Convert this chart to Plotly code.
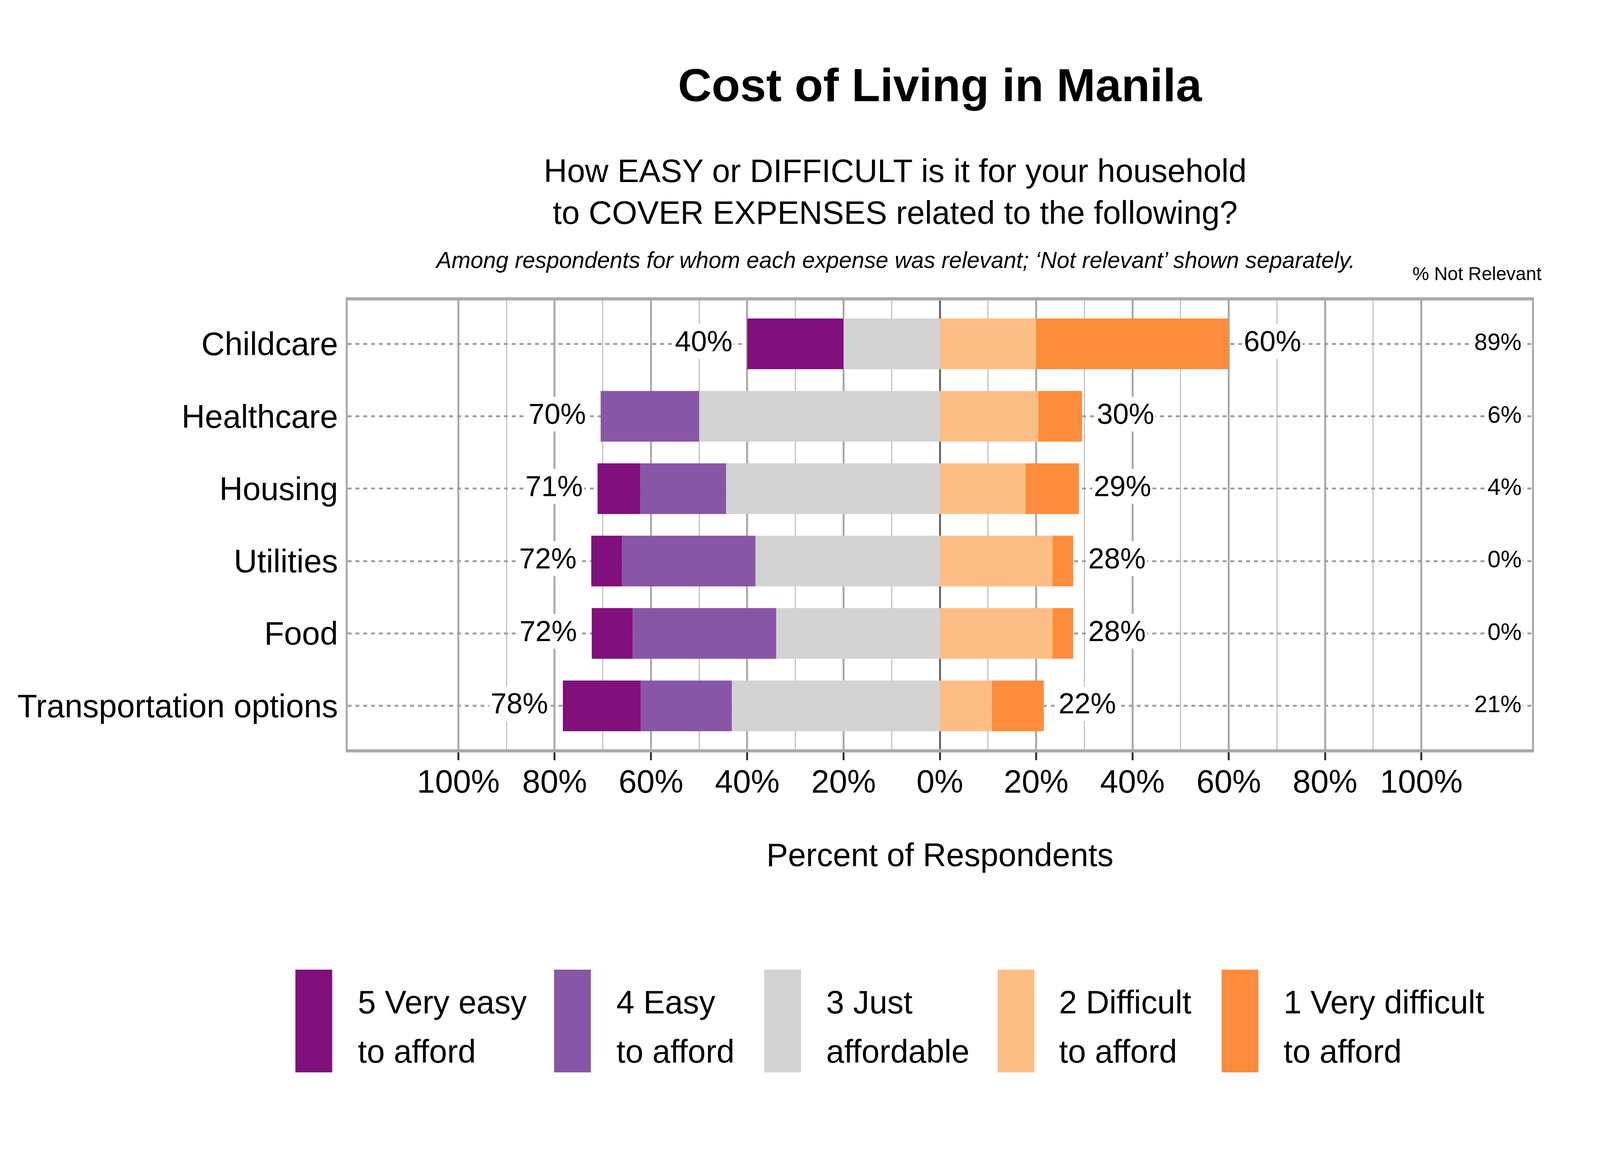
import plotly.graph_objects as go

# ---------------- data ----------------
categories = ["Childcare", "Healthcare", "Housing", "Utilities", "Food", "Transportation options"]
very_easy = [20.0, 0.0, 8.9, 6.4, 8.5, 16.2]            # 5 Very easy to afford
easy = [0.0, 20.45, 17.8, 27.7, 29.8, 18.9]             # 4 Easy to afford
just_affordable = [20.0, 50.0, 44.4, 38.3, 34.0, 43.2]  # 3 Just affordable
difficult = [20.0, 20.45, 17.8, 23.4, 23.4, 10.8]       # 2 Difficult to afford
very_difficult = [40.0, 9.09, 11.1, 4.3, 4.3, 10.8]     # 1 Very difficult to afford
not_relevant = [89, 6, 4, 0, 0, 21]

legend_names = [["5 Very easy", "to afford"], ["4 Easy", "to afford"], ["3 Just", "affordable"],
                ["2 Difficult", "to afford"], ["1 Very difficult", "to afford"]]
colors = ["#810F7C", "#8856A7", "#D3D3D3", "#FDBE85", "#FD8D3C"]

major_ticks = [-100, -80, -60, -40, -20, 0, 20, 40, 60, 80, 100]
major_labels = ["100%", "80%", "60%", "40%", "20%", "0%", "20%", "40%", "60%", "80%", "100%"]
minor_ticks = [-90, -70, -50, -30, -10, 10, 30, 50, 70, 90]

# ---------------- geometry ----------------
# Layout measured on a 6000x3000 reference; the browser viewport is 4096 CSS px wide,
# so horizontal measures are scaled by SX, vertical ones kept.
RW, RH = 6000, 3000
FW, FH = 4096, 3000
SX, SY = FW / RW, FH / RH
K = 0.72                                   # font scale

PL, PR, PT, PB = 1304, 5745, 769, 1918     # plot area in reference px
PW, PH = PR - PL, PB - PT


def fx(px):
    return (px - PL) / PW


def fy(py):
    return (PB - py) / PH


def fs(size):
    return size * K


def mid(cap_center, size):
    # plotly's 'middle' anchor sits slightly below the cap centre
    return fy(cap_center - 0.078 * fs(size) / SY)


FONT = "Liberation Sans, Arial, sans-serif"

fig = go.Figure()

left_series = [(just_affordable, colors[2]), (easy, colors[1]), (very_easy, colors[0])]
right_series = [(difficult, colors[3]), (very_difficult, colors[4])]

for vals, col in left_series:
    fig.add_trace(go.Bar(y=categories, x=[-v for v in vals], orientation="h",
                         marker=dict(color=col, line=dict(width=0)), width=0.7,
                         showlegend=False, hoverinfo="skip"))
for vals, col in right_series:
    fig.add_trace(go.Bar(y=categories, x=vals, orientation="h",
                         marker=dict(color=col, line=dict(width=0)), width=0.7,
                         showlegend=False, hoverinfo="skip"))

annotations = []
LBL = 102
NR = 84
for i, cat in enumerate(categories):
    left_total = very_easy[i] + easy[i] + just_affordable[i]
    right_total = difficult[i] + very_difficult[i]
    annotations.append(dict(x=-left_total, y=cat, xref="x", yref="y", text=f"{round(left_total)}%",
                            xanchor="right", yanchor="middle", xshift=-50 * SX, yshift=0.078 * fs(LBL),
                            showarrow=False, bgcolor="white", borderpad=3,
                            font=dict(family=FONT, size=fs(LBL), color="black")))
    annotations.append(dict(x=right_total, y=cat, xref="x", yref="y", text=f"{round(right_total)}%",
                            xanchor="left", yanchor="middle", xshift=50 * SX, yshift=0.078 * fs(LBL),
                            showarrow=False, bgcolor="white", borderpad=3,
                            font=dict(family=FONT, size=fs(LBL), color="black")))
    annotations.append(dict(x=121.1, y=cat, xref="x", yref="y", text=f"{not_relevant[i]}%",
                            xanchor="right", yanchor="middle", yshift=0.078 * fs(NR),
                            showarrow=False, bgcolor="white", borderpad=3,
                            font=dict(family=FONT, size=fs(NR), color="black")))

annotations.append(dict(x=fx(5783), y=mid(704, 66), xref="paper", yref="paper", text="% Not Relevant",
                        xanchor="right", yanchor="middle", showarrow=False,
                        font=dict(family=FONT, size=fs(66), color="black")))

# subtitles
sub_x = fx(3357)
annotations.append(dict(x=sub_x, y=mid(444, 115), xref="paper", yref="paper",
                        text="How EASY or DIFFICULT is it for your household",
                        xanchor="center", yanchor="middle", showarrow=False,
                        font=dict(family=FONT, size=fs(115), color="black")))
annotations.append(dict(x=sub_x, y=mid(551, 115), xref="paper", yref="paper",
                        text="to COVER EXPENSES related to the following?",
                        xanchor="center", yanchor="middle", showarrow=False,
                        font=dict(family=FONT, size=fs(115), color="black")))
annotations.append(dict(x=sub_x, y=mid(670, 81), xref="paper", yref="paper",
                        text="<i>Among respondents for whom each expense was relevant; \u2018Not relevant\u2019 shown separately.</i>",
                        xanchor="center", yanchor="middle", showarrow=False,
                        font=dict(family=FONT, size=fs(81), color="black")))

# x-axis title
annotations.append(dict(x=0.5, y=mid(2195, 115), xref="paper", yref="paper", text="Percent of Respondents",
                        xanchor="center", yanchor="middle", showarrow=False,
                        font=dict(family=FONT, size=fs(115), color="black")))

# custom legend (tall keys, as in the reference)
key_lefts = [1108, 2078, 2866, 3741, 4581]
text_lefts = [1339, 2309, 3095, 3969, 4811]
shapes = []
for i, name in enumerate(legend_names):
    shapes.append(dict(type="rect", xref="paper", yref="paper",
                       x0=fx(key_lefts[i]), x1=fx(key_lefts[i] + 138),
                       y0=fy(2745), y1=fy(2482), fillcolor=colors[i], line=dict(width=0)))
    annotations.append(dict(x=fx(text_lefts[i]), y=mid(2572, 115), xref="paper", yref="paper", text=name[0],
                            xanchor="left", yanchor="middle", showarrow=False,
                            font=dict(family=FONT, size=fs(115), color="black")))
    annotations.append(dict(x=fx(text_lefts[i]), y=mid(2698, 115), xref="paper", yref="paper", text=name[1],
                            xanchor="left", yanchor="middle", showarrow=False,
                            font=dict(family=FONT, size=fs(115), color="black")))

fig.update_layout(
    width=FW, height=FH,
    margin=dict(l=PL * SX, r=(RW - PR) * SX, t=PT * SY, b=(RH - PB) * SY, pad=0),
    paper_bgcolor="white", plot_bgcolor="white",
    barmode="relative", bargap=0.3,
    showlegend=False,
    title=dict(text="<b>Cost of Living in Manila</b>", x=0.5, xref="paper", xanchor="center",
               y=1 - (226 - 0.078 * fs(166) / SY) / RH, yref="container", yanchor="middle",
               font=dict(family=FONT, size=fs(166), color="black")),
    annotations=annotations,
    shapes=shapes,
    xaxis=dict(range=[-123, 123], tickmode="array", tickvals=major_ticks, ticktext=major_labels,
               showgrid=True, gridcolor="#AAAAAA", gridwidth=7 * SX,
               minor=dict(tickmode="array", tickvals=minor_ticks, showgrid=True,
                          gridcolor="#AAAAAA", gridwidth=3 * SX, ticks=""),
               zeroline=True, zerolinecolor="#666666", zerolinewidth=8 * SX,
               ticks="outside", ticklen=20 * SY, tickwidth=8 * SX, tickcolor="#333333",
               ticklabelstandoff=-16,
               showline=True, linecolor="#AAAAAA", linewidth=8 * SY, mirror=True,
               tickfont=dict(family=FONT, size=fs(115), color="black"), fixedrange=True),
    yaxis=dict(type="category", categoryorder="array", categoryarray=categories[::-1],
               range=[-0.6, 5.6], showgrid=True, gridcolor="#A0A0A0", gridwidth=4.5 * SY,
               griddash="10px,10px", zeroline=False, ticks="",
               showline=True, linecolor="#AAAAAA", linewidth=8 * SX, mirror=True,
               ticklabelstandoff=3,
               tickfont=dict(family=FONT, size=fs(115), color="black"), fixedrange=True),
)

fig.write_html("out.html", config={"displayModeBar": False},
               post_script="document.body.style.margin='0px';")
